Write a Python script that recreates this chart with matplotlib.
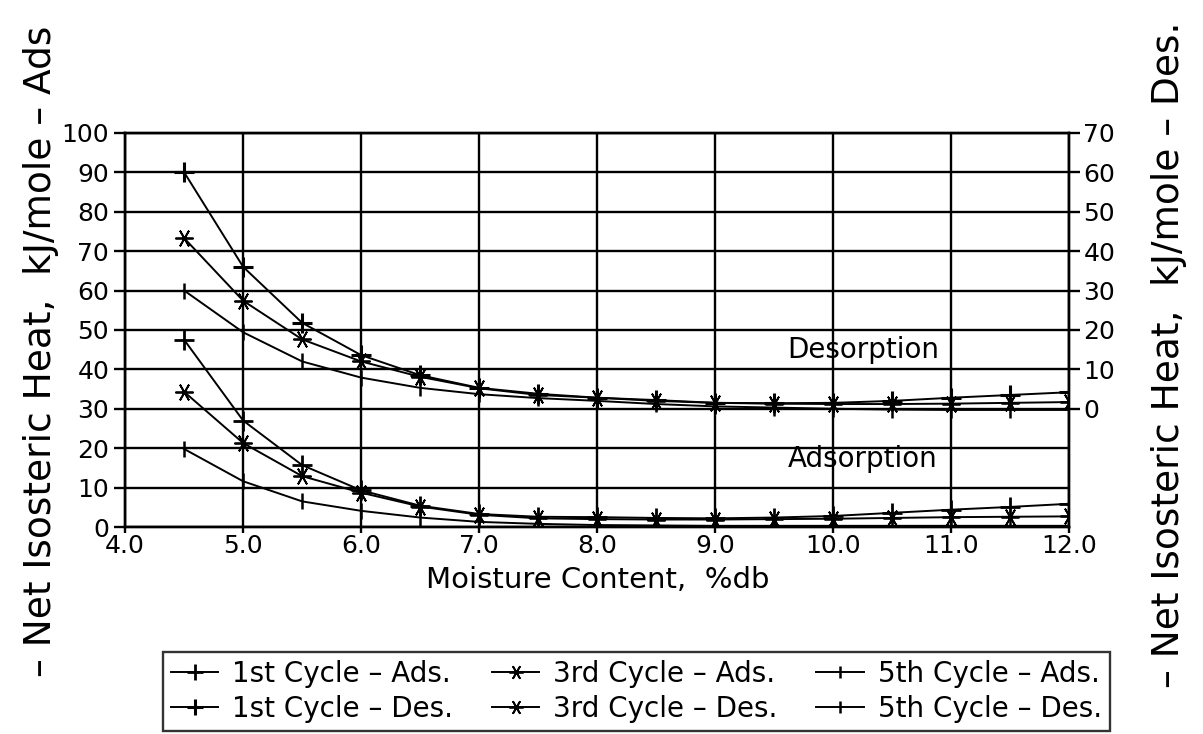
import matplotlib
matplotlib.use("Agg")
import matplotlib.pyplot as plt

# Moisture content, %db
moisture = [4.5, 5.0, 5.5, 6.0, 6.5, 7.0, 7.5, 8.0, 8.5, 9.0, 9.5, 10.0, 10.5, 11.0, 11.5, 12.0]

# Adsorption heats (left axis, kJ/mole)
ads_1st = [47.5, 27.0, 15.7, 9.3, 5.4, 3.3, 2.6, 2.5, 2.3, 2.2, 2.4, 2.8, 3.6, 4.4, 5.1, 5.9]
ads_3rd = [34.3, 21.3, 12.9, 8.7, 5.2, 3.1, 2.2, 2.0, 1.9, 1.9, 2.0, 2.1, 2.3, 2.5, 2.6, 2.7]
ads_5th = [19.8, 11.6, 6.5, 4.1, 2.4, 1.3, 0.8, 0.5, 0.4, 0.3, 0.3, 0.3, 0.3, 0.3, 0.3, 0.3]

# Desorption heats (right axis, kJ/mole)
des_1st = [60.0, 36.0, 21.8, 13.6, 8.5, 5.3, 3.8, 2.8, 2.2, 1.5, 1.4, 1.5, 2.0, 2.8, 3.5, 4.2]
des_3rd = [43.3, 27.4, 17.6, 12.0, 8.1, 5.2, 3.5, 2.8, 2.0, 1.5, 1.3, 1.2, 1.2, 1.3, 1.5, 1.7]
des_5th = [30.0, 19.4, 12.0, 7.9, 5.3, 3.7, 2.7, 2.0, 1.2, 0.6, 0.3, 0.0, -0.2, -0.3, -0.3, -0.3]

x_ticks = [4.0, 5.0, 6.0, 7.0, 8.0, 9.0, 10.0, 11.0, 12.0]
left_ticks = list(range(0, 101, 10))
right_ticks = list(range(0, 71, 10))

plt.rcParams["font.family"] = "DejaVu Sans"

fig = plt.figure(figsize=(12.03, 7.34), dpi=100)
ax = fig.add_axes([0.104, 0.282, 0.785, 0.537])
ax2 = ax.twinx()

star = (6, 2, 90)
l1 = ax.plot(moisture, ads_1st, color="black", lw=1.4, marker="+", ms=14, mew=2.0)[0]
l3 = ax.plot(moisture, ads_3rd, color="black", lw=1.4, marker=star, ms=13, mew=1.3)[0]
l5 = ax.plot(moisture, ads_5th, color="black", lw=1.4, marker="|", ms=11, mew=1.8)[0]
d1 = ax2.plot(moisture, des_1st, color="black", lw=1.4, marker="+", ms=14, mew=2.2)[0]
d3 = ax2.plot(moisture, des_3rd, color="black", lw=1.4, marker=star, ms=13, mew=1.3)[0]
d5 = ax2.plot(moisture, des_5th, color="black", lw=1.4, marker="|", ms=11, mew=1.8)[0]

ax.set_xlim(4.0, 12.0)
ax.set_ylim(0, 100)
ax2.set_ylim(-30, 70)
ax.set_xticks(x_ticks)
ax.set_xticklabels([f"{v:.1f}" for v in x_ticks])
ax.set_yticks(left_ticks)
ax2.set_yticks(right_ticks)

ax.grid(True, color="black", lw=1.7)
for a in (ax, ax2):
    for s in a.spines.values():
        s.set_linewidth(1.7)
ax.tick_params(axis="both", direction="out", length=8, width=1.7, labelsize=18)
ax.tick_params(axis="x", length=4, pad=1)
ax2.tick_params(axis="y", direction="out", length=8, width=1.7, labelsize=18, pad=2)

ax.set_xlabel("Moisture Content,  %db", fontsize=21, labelpad=6)

ax.text(10.25, 45.0, "Desorption", fontsize=20, ha="center", va="center")
ax.text(10.25, 17.2, "Adsorption", fontsize=20, ha="center", va="center")

fig.text(0.034, 0.522, "\u2013 Net Isosteric Heat,  kJ/mole \u2013 Ads", rotation=90,
         fontsize=27, ha="center", va="center")
fig.text(0.972, 0.516, "\u2013 Net Isosteric Heat,  kJ/mole \u2013 Des.", rotation=90,
         fontsize=27, ha="center", va="center")

leg = fig.legend([l1, d1, l3, d3, l5, d5],
                 ["1st Cycle \u2013 Ads.", "1st Cycle \u2013 Des.",
                  "3rd Cycle \u2013 Ads.", "3rd Cycle \u2013 Des.",
                  "5th Cycle \u2013 Ads.", "5th Cycle \u2013 Des."],
                 ncol=3, loc="lower center", bbox_to_anchor=(0.529, 0.0),
                 fontsize=20, frameon=True, fancybox=False, edgecolor="black",
                 handlelength=1.7, columnspacing=1.4, handletextpad=0.5,
                 borderpad=0.3, labelspacing=0.25, markerscale=0.8,
                 borderaxespad=0.1)
leg.get_frame().set_linewidth(1.7)

fig.savefig("out.png", dpi=100)
